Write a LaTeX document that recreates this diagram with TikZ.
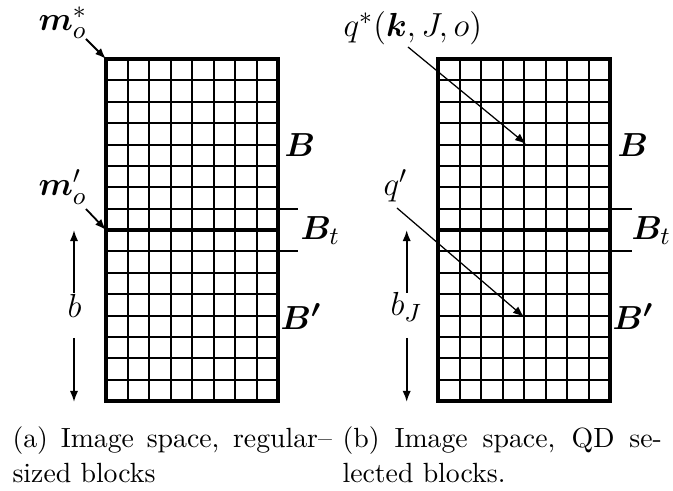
\documentclass[tikz,border=0pt]{standalone}
\usepackage{amsmath}
\usepackage{bm}
\usetikzlibrary{arrows.meta}
\begin{document}
\begin{tikzpicture}[x=0.36pt,y=-0.36pt,
  thingrid/.style={line width=0.72pt},
  thickgrid/.style={line width=1.44pt},
  lbl/.style={inner sep=0pt,anchor=base west,font=\fontsize{13.2}{15}\selectfont},
  slbl/.style={inner sep=0pt,anchor=base west,font=\fontsize{13}{15}\selectfont},
  ptr/.style={line width=0.65pt,-{Latex[length=4pt,width=3pt]}},
  qptr/.style={line width=0.45pt,-{Latex[length=4pt,width=3pt]}},
  captext/.style={inner sep=0pt,anchor=north west,text width=115pt,align=justify,font=\fontsize{10}{12.8}\selectfont}
]
\useasboundingbox (0,0) rectangle (673,491);

% grids
\foreach \gx/\ex in {106/298, 438/632} {
  \foreach \i in {1,...,7}
    \draw[thingrid] ({round(\gx+21.5*\i)},59) -- ({round(\gx+21.5*\i)},401);
  \foreach \j in {1,...,15}
    \draw[thingrid] (\gx,{round(59+21.375*\j)}) -- ({\gx+172},{round(59+21.375*\j)});
  \draw[thingrid] ({\gx+172},209) -- (\ex,209);
  \draw[thingrid] ({\gx+172},251) -- (\ex,251);
  \draw[thickgrid] (\gx,59) rectangle ({\gx+172},401);
  \draw[thickgrid] (\gx,230) -- ({\gx+172},230);
}

% corner coordinates
\coordinate (Atl) at (106,59);
\coordinate (Aml) at (106,230);

% block labels
\node[lbl] (BA)  at (284,157) {$\bm{B}$};
\node[lbl] (BtA) at (300,240) {$\bm{B}_t$};
\node[lbl] (BpA) at (280,330) {$\bm{B'}$};
\node[lbl] (BB)  at (617,157) {$\bm{B}$};
\node[lbl] (BtB) at (631,240) {$\bm{B}_t$};
\node[lbl] (BpB) at (612,330) {$\bm{B'}$};

% (a) pointers
\node[lbl,anchor=north west] (mstar) at (38,6) {$\bm{m}_o^*$};
\node[lbl] (mprime) at (38,196) {$\bm{m}'_o$};
\coordinate (mstarT) at (86,39);
\coordinate (mprimeT) at (86,209);
\draw[ptr] (mstarT) -- (Atl);
\draw[ptr] (mprimeT) -- (Aml);

% (a) b
\node[slbl] (bA) at (67,318) {$b$};
\coordinate (bAu0) at (74,293);
\coordinate (bAu1) at (74,230);
\coordinate (bAd0) at (74,338);
\coordinate (bAd1) at (74,402);
\draw[ptr] (bAu0) -- (bAu1);
\draw[ptr] (bAd0) -- (bAd1);

% (b) pointers
\node[slbl] (qstar) at (343,37) {$q^*(\bm{k},J,o)$};
\node[slbl] (qprime) at (383,196) {$q'$};
\coordinate (qstarT) at (408,47);
\coordinate (qstarH) at (526,144);
\coordinate (qprimeT) at (397,208);
\coordinate (qprimeH) at (524,317);
\draw[qptr] (qstarT) -- (qstarH);
\draw[qptr] (qprimeT) -- (qprimeH);

% (b) b_J
\node[slbl] (bB) at (390,316) {$b_J$};
\coordinate (bBu0) at (406.7,293);
\coordinate (bBu1) at (406.7,230);
\coordinate (bBd0) at (406.7,338);
\coordinate (bBd1) at (406.7,402);
\draw[ptr] (bBu0) -- (bBu1);
\draw[ptr] (bBd0) -- (bBd1);

% captions
\node[captext] (capA) at (12,426) {\noindent(a) Image space, regular--\linebreak sized blocks};
\node[captext] (capB) at (342,426) {\noindent(b) Image space, QD se-\linebreak lected blocks.};
\end{tikzpicture}
\end{document}
